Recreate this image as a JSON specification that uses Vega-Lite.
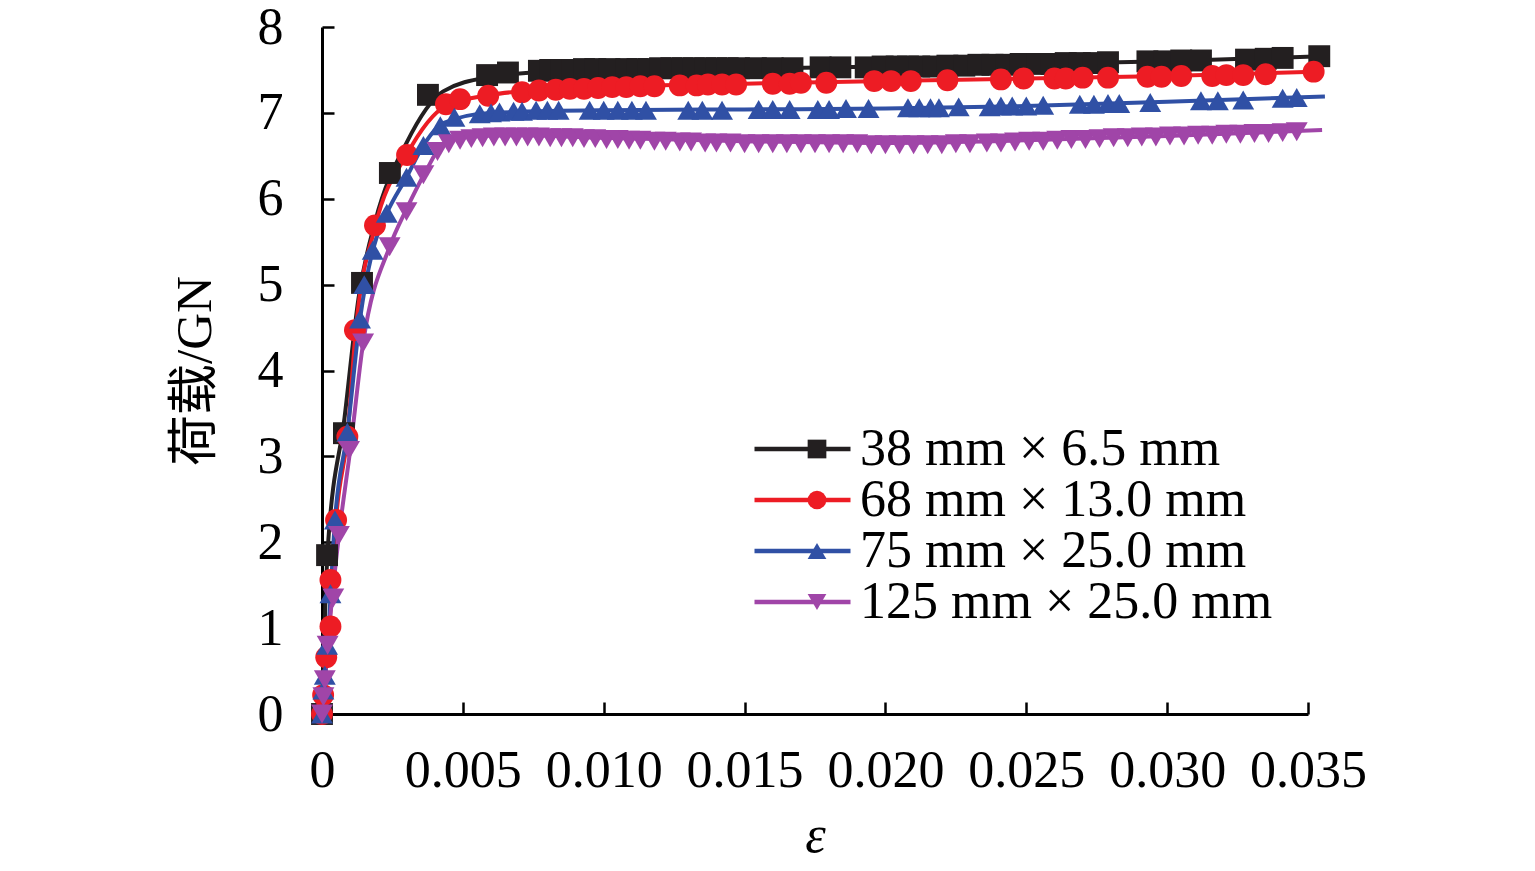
{
  "$schema": "https://vega.github.io/schema/vega-lite/v6.json",
  "width": 986,
  "height": 687,
  "autosize": "none",
  "padding": {"left": 322, "top": 27, "right": 227, "bottom": 157},
  "background": "white",
  "config": {
    "view": {"stroke": null},
    "font": "Liberation Serif",
    "legend": {"padding": 0, "rowPadding": -2, "clipHeight": 50, "labelFont": "Liberation Serif", "labelFontSize": 52, "labelColor": "black", "labelLimit": 800, "title": null}
  },
  "datasets": {
    "curves": [
      {"s": "1", "x": 0, "y": 0}, {"s": "1", "x": 0.0002, "y": 1.9}, {"s": "1", "x": 0.0008, "y": 3.45}, {"s": "1", "x": 0.0013, "y": 4.85},
      {"s": "1", "x": 0.0019, "y": 5.75}, {"s": "1", "x": 0.003, "y": 6.65}, {"s": "1", "x": 0.0043, "y": 7.25}, {"s": "1", "x": 0.006, "y": 7.42},
      {"s": "1", "x": 0.008, "y": 7.48}, {"s": "1", "x": 0.012, "y": 7.51}, {"s": "1", "x": 0.016, "y": 7.52}, {"s": "1", "x": 0.02, "y": 7.54},
      {"s": "1", "x": 0.025, "y": 7.57}, {"s": "1", "x": 0.03, "y": 7.6}, {"s": "1", "x": 0.0355, "y": 7.66},
      {"s": "2", "x": 0, "y": 0}, {"s": "2", "x": 0.0003, "y": 1.2}, {"s": "2", "x": 0.0005, "y": 2.26}, {"s": "2", "x": 0.0009, "y": 3.23},
      {"s": "2", "x": 0.0012, "y": 4.47}, {"s": "2", "x": 0.0019, "y": 5.69}, {"s": "2", "x": 0.003, "y": 6.51}, {"s": "2", "x": 0.0044, "y": 7.08},
      {"s": "2", "x": 0.006, "y": 7.21}, {"s": "2", "x": 0.008, "y": 7.27}, {"s": "2", "x": 0.01, "y": 7.3}, {"s": "2", "x": 0.015, "y": 7.34},
      {"s": "2", "x": 0.02, "y": 7.37}, {"s": "2", "x": 0.025, "y": 7.4}, {"s": "2", "x": 0.03, "y": 7.43}, {"s": "2", "x": 0.0353, "y": 7.48},
      {"s": "3", "x": 0, "y": 0}, {"s": "3", "x": 0.0002, "y": 0.8}, {"s": "3", "x": 0.00046, "y": 2.26}, {"s": "3", "x": 0.0009, "y": 3.28},
      {"s": "3", "x": 0.00135, "y": 4.6}, {"s": "3", "x": 0.0018, "y": 5.4}, {"s": "3", "x": 0.0023, "y": 5.83}, {"s": "3", "x": 0.003, "y": 6.25},
      {"s": "3", "x": 0.0036, "y": 6.62}, {"s": "3", "x": 0.0043, "y": 6.88}, {"s": "3", "x": 0.006, "y": 7.0}, {"s": "3", "x": 0.01, "y": 7.03},
      {"s": "3", "x": 0.015, "y": 7.04}, {"s": "3", "x": 0.02, "y": 7.05}, {"s": "3", "x": 0.025, "y": 7.08}, {"s": "3", "x": 0.03, "y": 7.13},
      {"s": "3", "x": 0.0356, "y": 7.19},
      {"s": "4", "x": 0, "y": 0}, {"s": "4", "x": 0.0002, "y": 0.8}, {"s": "4", "x": 0.0006, "y": 2.08}, {"s": "4", "x": 0.001, "y": 3.07},
      {"s": "4", "x": 0.00146, "y": 4.32}, {"s": "4", "x": 0.0024, "y": 5.44}, {"s": "4", "x": 0.003, "y": 5.88}, {"s": "4", "x": 0.0037, "y": 6.33},
      {"s": "4", "x": 0.0042, "y": 6.6}, {"s": "4", "x": 0.005, "y": 6.72}, {"s": "4", "x": 0.007, "y": 6.74}, {"s": "4", "x": 0.01, "y": 6.71},
      {"s": "4", "x": 0.015, "y": 6.67}, {"s": "4", "x": 0.02, "y": 6.65}, {"s": "4", "x": 0.025, "y": 6.68}, {"s": "4", "x": 0.03, "y": 6.73},
      {"s": "4", "x": 0.0355, "y": 6.8}
    ],
    "points": [
      {"s": "a", "x": 0, "y": 0}, {"s": "a", "x": 0.00018, "y": 1.85}, {"s": "a", "x": 0.00078, "y": 3.27}, {"s": "a", "x": 0.00142, "y": 5.02},
      {"s": "a", "x": 0.00241, "y": 6.3}, {"s": "a", "x": 0.00376, "y": 7.21}, {"s": "a", "x": 0.00586, "y": 7.44}, {"s": "a", "x": 0.0066, "y": 7.47},
      {"s": "a", "x": 0.0077, "y": 7.49}, {"s": "a", "x": 0.0081, "y": 7.5}, {"s": "a", "x": 0.0085, "y": 7.5}, {"s": "a", "x": 0.0089, "y": 7.5},
      {"s": "a", "x": 0.0093, "y": 7.51}, {"s": "a", "x": 0.0097, "y": 7.51}, {"s": "a", "x": 0.0102, "y": 7.51}, {"s": "a", "x": 0.0108, "y": 7.51},
      {"s": "a", "x": 0.0112, "y": 7.51}, {"s": "a", "x": 0.0116, "y": 7.51}, {"s": "a", "x": 0.012, "y": 7.52}, {"s": "a", "x": 0.0124, "y": 7.52},
      {"s": "a", "x": 0.0128, "y": 7.52}, {"s": "a", "x": 0.0132, "y": 7.52}, {"s": "a", "x": 0.0136, "y": 7.52}, {"s": "a", "x": 0.014, "y": 7.52},
      {"s": "a", "x": 0.0144, "y": 7.52}, {"s": "a", "x": 0.0148, "y": 7.52}, {"s": "a", "x": 0.0154, "y": 7.52}, {"s": "a", "x": 0.016, "y": 7.52},
      {"s": "a", "x": 0.0167, "y": 7.52}, {"s": "a", "x": 0.0177, "y": 7.53}, {"s": "a", "x": 0.0184, "y": 7.53}, {"s": "a", "x": 0.0193, "y": 7.53},
      {"s": "a", "x": 0.0199, "y": 7.54}, {"s": "a", "x": 0.0204, "y": 7.54}, {"s": "a", "x": 0.0208, "y": 7.54}, {"s": "a", "x": 0.0212, "y": 7.54},
      {"s": "a", "x": 0.0217, "y": 7.54}, {"s": "a", "x": 0.0222, "y": 7.55}, {"s": "a", "x": 0.0228, "y": 7.55}, {"s": "a", "x": 0.0233, "y": 7.56},
      {"s": "a", "x": 0.0238, "y": 7.56}, {"s": "a", "x": 0.0243, "y": 7.56}, {"s": "a", "x": 0.0248, "y": 7.57}, {"s": "a", "x": 0.0254, "y": 7.57},
      {"s": "a", "x": 0.0259, "y": 7.57}, {"s": "a", "x": 0.0264, "y": 7.58}, {"s": "a", "x": 0.0269, "y": 7.58}, {"s": "a", "x": 0.0274, "y": 7.58},
      {"s": "a", "x": 0.0279, "y": 7.59}, {"s": "a", "x": 0.0293, "y": 7.6}, {"s": "a", "x": 0.0299, "y": 7.6}, {"s": "a", "x": 0.0305, "y": 7.61},
      {"s": "a", "x": 0.0312, "y": 7.61}, {"s": "a", "x": 0.0328, "y": 7.62}, {"s": "a", "x": 0.0335, "y": 7.63}, {"s": "a", "x": 0.0341, "y": 7.64},
      {"s": "a", "x": 0.0354, "y": 7.66},
      {"s": "b", "x": 0, "y": 0}, {"s": "b", "x": 0.00004, "y": 0.22}, {"s": "b", "x": 0.00015, "y": 0.66}, {"s": "b", "x": 0.0003, "y": 1.02},
      {"s": "b", "x": 0.0003, "y": 1.56}, {"s": "b", "x": 0.0005, "y": 2.26}, {"s": "b", "x": 0.0009, "y": 3.23}, {"s": "b", "x": 0.00117, "y": 4.47},
      {"s": "b", "x": 0.00188, "y": 5.69}, {"s": "b", "x": 0.00302, "y": 6.51}, {"s": "b", "x": 0.0044, "y": 7.1}, {"s": "b", "x": 0.0049, "y": 7.16},
      {"s": "b", "x": 0.0059, "y": 7.2}, {"s": "b", "x": 0.0071, "y": 7.24}, {"s": "b", "x": 0.0077, "y": 7.26}, {"s": "b", "x": 0.0083, "y": 7.27},
      {"s": "b", "x": 0.0088, "y": 7.28}, {"s": "b", "x": 0.0093, "y": 7.28}, {"s": "b", "x": 0.0098, "y": 7.29}, {"s": "b", "x": 0.0103, "y": 7.3},
      {"s": "b", "x": 0.0108, "y": 7.3}, {"s": "b", "x": 0.0113, "y": 7.31}, {"s": "b", "x": 0.0118, "y": 7.31}, {"s": "b", "x": 0.0127, "y": 7.32},
      {"s": "b", "x": 0.0133, "y": 7.32}, {"s": "b", "x": 0.0137, "y": 7.33}, {"s": "b", "x": 0.0142, "y": 7.33}, {"s": "b", "x": 0.0147, "y": 7.33},
      {"s": "b", "x": 0.016, "y": 7.34}, {"s": "b", "x": 0.0166, "y": 7.34}, {"s": "b", "x": 0.017, "y": 7.35}, {"s": "b", "x": 0.0179, "y": 7.35},
      {"s": "b", "x": 0.0196, "y": 7.37}, {"s": "b", "x": 0.0202, "y": 7.37}, {"s": "b", "x": 0.0209, "y": 7.37}, {"s": "b", "x": 0.0222, "y": 7.38},
      {"s": "b", "x": 0.0241, "y": 7.39}, {"s": "b", "x": 0.0249, "y": 7.4}, {"s": "b", "x": 0.026, "y": 7.4}, {"s": "b", "x": 0.0264, "y": 7.4},
      {"s": "b", "x": 0.027, "y": 7.41}, {"s": "b", "x": 0.0279, "y": 7.41}, {"s": "b", "x": 0.0293, "y": 7.42}, {"s": "b", "x": 0.0298, "y": 7.42},
      {"s": "b", "x": 0.0305, "y": 7.43}, {"s": "b", "x": 0.0316, "y": 7.43}, {"s": "b", "x": 0.0321, "y": 7.44}, {"s": "b", "x": 0.0327, "y": 7.44},
      {"s": "b", "x": 0.0335, "y": 7.45}, {"s": "b", "x": 0.0352, "y": 7.48},
      {"s": "c", "x": 0, "y": 0}, {"s": "c", "x": 0.00005, "y": 0.28}, {"s": "c", "x": 0.0001, "y": 0.45}, {"s": "c", "x": 0.00018, "y": 0.8},
      {"s": "c", "x": 0.0003, "y": 1.4}, {"s": "c", "x": 0.00046, "y": 2.26}, {"s": "c", "x": 0.0009, "y": 3.28}, {"s": "c", "x": 0.00135, "y": 4.6},
      {"s": "c", "x": 0.0015, "y": 5.0}, {"s": "c", "x": 0.0018, "y": 5.4}, {"s": "c", "x": 0.0023, "y": 5.83}, {"s": "c", "x": 0.003, "y": 6.25},
      {"s": "c", "x": 0.0036, "y": 6.62}, {"s": "c", "x": 0.0042, "y": 6.85}, {"s": "c", "x": 0.0047, "y": 6.95}, {"s": "c", "x": 0.0056, "y": 6.99},
      {"s": "c", "x": 0.006, "y": 7.0}, {"s": "c", "x": 0.0063, "y": 7.01}, {"s": "c", "x": 0.0068, "y": 7.02}, {"s": "c", "x": 0.0071, "y": 7.02},
      {"s": "c", "x": 0.0076, "y": 7.03}, {"s": "c", "x": 0.008, "y": 7.03}, {"s": "c", "x": 0.0084, "y": 7.03}, {"s": "c", "x": 0.0095, "y": 7.03},
      {"s": "c", "x": 0.01, "y": 7.03}, {"s": "c", "x": 0.0105, "y": 7.03}, {"s": "c", "x": 0.011, "y": 7.03}, {"s": "c", "x": 0.0115, "y": 7.03},
      {"s": "c", "x": 0.013, "y": 7.03}, {"s": "c", "x": 0.0135, "y": 7.03}, {"s": "c", "x": 0.0142, "y": 7.03}, {"s": "c", "x": 0.0155, "y": 7.04},
      {"s": "c", "x": 0.016, "y": 7.04}, {"s": "c", "x": 0.0166, "y": 7.04}, {"s": "c", "x": 0.0176, "y": 7.04}, {"s": "c", "x": 0.018, "y": 7.04},
      {"s": "c", "x": 0.0186, "y": 7.05}, {"s": "c", "x": 0.0194, "y": 7.05}, {"s": "c", "x": 0.0208, "y": 7.06}, {"s": "c", "x": 0.0212, "y": 7.06},
      {"s": "c", "x": 0.0216, "y": 7.06}, {"s": "c", "x": 0.0219, "y": 7.06}, {"s": "c", "x": 0.0226, "y": 7.07}, {"s": "c", "x": 0.0237, "y": 7.07},
      {"s": "c", "x": 0.0241, "y": 7.08}, {"s": "c", "x": 0.0245, "y": 7.08}, {"s": "c", "x": 0.025, "y": 7.08}, {"s": "c", "x": 0.0256, "y": 7.09},
      {"s": "c", "x": 0.0269, "y": 7.1}, {"s": "c", "x": 0.0274, "y": 7.1}, {"s": "c", "x": 0.0279, "y": 7.11}, {"s": "c", "x": 0.0283, "y": 7.11},
      {"s": "c", "x": 0.0294, "y": 7.12}, {"s": "c", "x": 0.0312, "y": 7.14}, {"s": "c", "x": 0.0318, "y": 7.14}, {"s": "c", "x": 0.0327, "y": 7.15},
      {"s": "c", "x": 0.0341, "y": 7.17}, {"s": "c", "x": 0.0346, "y": 7.18},
      {"s": "d", "x": 0, "y": 0}, {"s": "d", "x": 0.00005, "y": 0.2}, {"s": "d", "x": 0.0001, "y": 0.4}, {"s": "d", "x": 0.0002, "y": 0.8},
      {"s": "d", "x": 0.0004, "y": 1.35}, {"s": "d", "x": 0.0006, "y": 2.08}, {"s": "d", "x": 0.00096, "y": 3.07}, {"s": "d", "x": 0.00146, "y": 4.32},
      {"s": "d", "x": 0.0024, "y": 5.44}, {"s": "d", "x": 0.003, "y": 5.85}, {"s": "d", "x": 0.0036, "y": 6.28}, {"s": "d", "x": 0.0041, "y": 6.55},
      {"s": "d", "x": 0.0045, "y": 6.64}, {"s": "d", "x": 0.0049, "y": 6.68}, {"s": "d", "x": 0.0053, "y": 6.7}, {"s": "d", "x": 0.0057, "y": 6.71},
      {"s": "d", "x": 0.0061, "y": 6.72}, {"s": "d", "x": 0.0065, "y": 6.72}, {"s": "d", "x": 0.0069, "y": 6.72}, {"s": "d", "x": 0.0073, "y": 6.72},
      {"s": "d", "x": 0.0077, "y": 6.72}, {"s": "d", "x": 0.0081, "y": 6.71}, {"s": "d", "x": 0.0085, "y": 6.71}, {"s": "d", "x": 0.0089, "y": 6.71},
      {"s": "d", "x": 0.0093, "y": 6.7}, {"s": "d", "x": 0.0097, "y": 6.7}, {"s": "d", "x": 0.0101, "y": 6.69}, {"s": "d", "x": 0.0105, "y": 6.69},
      {"s": "d", "x": 0.0109, "y": 6.68}, {"s": "d", "x": 0.0113, "y": 6.68}, {"s": "d", "x": 0.0118, "y": 6.67}, {"s": "d", "x": 0.0122, "y": 6.67},
      {"s": "d", "x": 0.0127, "y": 6.66}, {"s": "d", "x": 0.0131, "y": 6.66}, {"s": "d", "x": 0.0136, "y": 6.65}, {"s": "d", "x": 0.014, "y": 6.65},
      {"s": "d", "x": 0.0145, "y": 6.65}, {"s": "d", "x": 0.015, "y": 6.64}, {"s": "d", "x": 0.0155, "y": 6.64}, {"s": "d", "x": 0.016, "y": 6.64},
      {"s": "d", "x": 0.0165, "y": 6.64}, {"s": "d", "x": 0.017, "y": 6.64}, {"s": "d", "x": 0.0175, "y": 6.64}, {"s": "d", "x": 0.018, "y": 6.64},
      {"s": "d", "x": 0.0185, "y": 6.64}, {"s": "d", "x": 0.019, "y": 6.64}, {"s": "d", "x": 0.0195, "y": 6.63}, {"s": "d", "x": 0.02, "y": 6.63},
      {"s": "d", "x": 0.0205, "y": 6.63}, {"s": "d", "x": 0.021, "y": 6.63}, {"s": "d", "x": 0.0215, "y": 6.63}, {"s": "d", "x": 0.022, "y": 6.63},
      {"s": "d", "x": 0.0225, "y": 6.64}, {"s": "d", "x": 0.023, "y": 6.64}, {"s": "d", "x": 0.0236, "y": 6.65}, {"s": "d", "x": 0.0241, "y": 6.65},
      {"s": "d", "x": 0.0246, "y": 6.66}, {"s": "d", "x": 0.0251, "y": 6.67}, {"s": "d", "x": 0.0256, "y": 6.67}, {"s": "d", "x": 0.0261, "y": 6.68},
      {"s": "d", "x": 0.0266, "y": 6.69}, {"s": "d", "x": 0.0271, "y": 6.69}, {"s": "d", "x": 0.0276, "y": 6.7}, {"s": "d", "x": 0.0281, "y": 6.71},
      {"s": "d", "x": 0.0286, "y": 6.71}, {"s": "d", "x": 0.0291, "y": 6.72}, {"s": "d", "x": 0.0296, "y": 6.72}, {"s": "d", "x": 0.0301, "y": 6.73},
      {"s": "d", "x": 0.0306, "y": 6.73}, {"s": "d", "x": 0.0311, "y": 6.74}, {"s": "d", "x": 0.0316, "y": 6.74}, {"s": "d", "x": 0.0321, "y": 6.75},
      {"s": "d", "x": 0.0326, "y": 6.75}, {"s": "d", "x": 0.0331, "y": 6.76}, {"s": "d", "x": 0.0336, "y": 6.76}, {"s": "d", "x": 0.0341, "y": 6.77},
      {"s": "d", "x": 0.0346, "y": 6.78}
    ]
  },
  "encoding": {
    "x": {
      "field": "x",
      "type": "quantitative",
      "scale": {"domain": [0, 0.035], "nice": false},
      "axis": {
        "title": "ε",
        "titleFont": "Liberation Serif",
        "titleFontSize": 52,
        "titleFontStyle": "italic",
        "titleFontWeight": "normal",
        "titleColor": "black",
        "titlePadding": 14,
        "values": [0, 0.005, 0.01, 0.015, 0.02, 0.025, 0.03, 0.035],
        "labelExpr": "datum.value === 0 ? '0' : format(datum.value, '.3f')",
        "labelFont": "Liberation Serif",
        "labelFontSize": 52,
        "labelColor": "black",
        "labelPadding": 43,
        "labelFlush": false,
        "labelOverlap": false,
        "tickSize": -12,
        "tickWidth": 2.5,
        "tickColor": "black",
        "domainColor": "black",
        "domainWidth": 3,
        "grid": false
      }
    },
    "y": {
      "field": "y",
      "type": "quantitative",
      "scale": {"domain": [0, 8], "nice": false},
      "axis": {
        "title": "荷载/GN",
        "titleFont": "Liberation Serif, Noto Sans CJK SC",
        "titleFontSize": 51,
        "titleFontWeight": "normal",
        "titleColor": "black",
        "titlePadding": 36,
        "values": [0, 1, 2, 3, 4, 5, 6, 7, 8],
        "labelFont": "Liberation Serif",
        "labelFontSize": 52,
        "labelColor": "black",
        "labelPadding": 51,
        "labelFlush": false,
        "labelOverlap": false,
        "tickSize": -12,
        "tickWidth": 2.5,
        "tickColor": "black",
        "domainColor": "black",
        "domainWidth": 3,
        "grid": false
      }
    }
  },
  "layer": [
    {
      "data": {"name": "curves"},
      "mark": {"type": "line", "strokeWidth": 4, "interpolate": "monotone"},
      "encoding": {
        "stroke": {
          "field": "s",
          "type": "nominal",
          "scale": {"range": ["#231f20", "#ed1c24", "#3050a5", "#a045a8"]},
          "legend": {
            "orient": "none",
            "legendX": 430,
            "legendY": 397,
            "labelExpr": "{'1': '38 mm × 6.5 mm', '2': '68 mm × 13.0 mm', '3': '75 mm × 25.0 mm', '4': '125 mm × 25.0 mm'}[datum.value]",
            "labelOffset": 7,
            "symbolType": "stroke",
            "symbolSize": 9216,
            "symbolStrokeWidth": 4.5
          }
        }
      }
    },
    {
      "data": {"name": "points"},
      "mark": {"type": "point", "filled": true, "size": 480, "opacity": 1, "strokeWidth": 0},
      "encoding": {
        "fill": {
          "field": "s",
          "type": "nominal",
          "scale": {"range": ["#231f20", "#ed1c24", "#3050a5", "#a045a8"]},
          "legend": {
            "orient": "none",
            "legendX": 469,
            "legendY": 397,
            "labelExpr": "''",
            "symbolSize": 350,
            "symbolStrokeWidth": 0,
            "symbolOpacity": 1
          }
        },
        "shape": {
          "field": "s",
          "type": "nominal",
          "scale": {"range": ["square", "circle", "triangle-up", "triangle-down"]},
          "legend": {
            "orient": "none",
            "legendX": 469,
            "legendY": 397,
            "labelExpr": "''",
            "symbolSize": 350,
            "symbolStrokeWidth": 0,
            "symbolOpacity": 1
          }
        }
      }
    }
  ]
}
